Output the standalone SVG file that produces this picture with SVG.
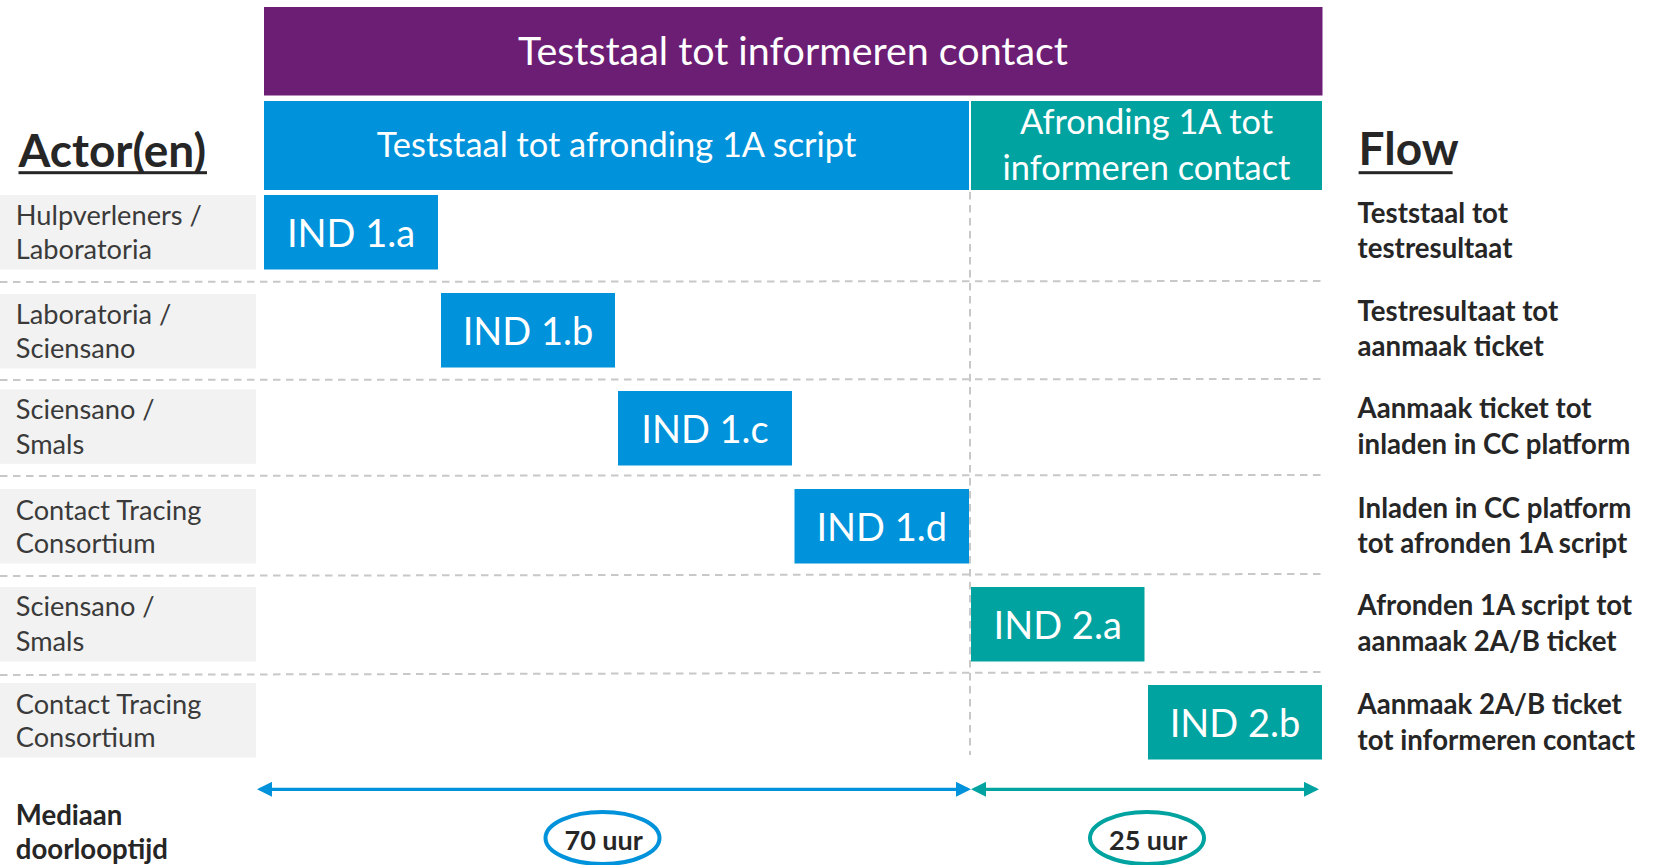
<svg xmlns="http://www.w3.org/2000/svg" width="1656" height="865" viewBox="0 0 1656 865">
<style>
text{font-family:Lato,"Open Sans","Liberation Sans",sans-serif}
.hdr{fill:#ffffff;text-anchor:middle}
.h1{font-size:39.4px}
.h2{font-size:34.4px}
.ind{fill:#ffffff;font-size:38px;text-anchor:middle}
.act{fill:#3a3a3a;font-size:27.2px}
.flow{fill:#262626;font-size:27.6px;font-weight:bold}
.title{fill:#262626;font-size:46px;font-weight:bold}
.lbl{fill:#f2f2f2}
.blue{fill:#0092da}
.teal{fill:#00a3a0}
.dash{stroke:#c8c8c8;stroke-width:2;stroke-dasharray:7.5 5.5;fill:none}
.dur{fill:#262626;font-size:27px;font-weight:bold;text-anchor:middle}
</style>
<defs>
<marker id="ab" markerUnits="userSpaceOnUse" markerWidth="15" markerHeight="15" refX="12" refY="7.5" orient="auto-start-reverse"><path d="M0,0 L15,7.5 L0,15 Z" fill="#0092da"/></marker>
<marker id="at" markerUnits="userSpaceOnUse" markerWidth="15" markerHeight="15" refX="12" refY="7.5" orient="auto-start-reverse"><path d="M0,0 L15,7.5 L0,15 Z" fill="#00a3a0"/></marker>
</defs>
<rect width="1656" height="865" fill="#ffffff"/>

<g id="grid">
<line class="dash" x1="0" y1="282" x2="1322" y2="281"/>
<line class="dash" x1="0" y1="380" x2="1322" y2="379"/>
<line class="dash" x1="0" y1="476" x2="1322" y2="475"/>
<line class="dash" x1="0" y1="576" x2="1322" y2="574"/>
<line class="dash" x1="0" y1="675" x2="1322" y2="672"/>
<line class="dash" x1="970" y1="192" x2="970" y2="755"/>
</g>

<g id="header-main">
<rect x="264" y="7" width="1058.5" height="88.5" fill="#6c1e74"/>
<text class="hdr h1" x="793" y="65">Teststaal tot informeren contact</text>
</g>
<g id="header-1">
<rect class="blue" x="264" y="101" width="705" height="89"/>
<text class="hdr h2" x="616.5" y="156.7">Teststaal tot afronding 1A script</text>
</g>
<g id="header-2">
<rect class="teal" x="971" y="101" width="351" height="89"/>
<text class="hdr h2" x="1146.5" y="134.3">Afronding 1A tot</text>
<text class="hdr h2" x="1146.5" y="180">informeren contact</text>
</g>

<g id="title-actors">
<text class="title" x="18.5" y="166.7">Actor(en)</text>
<rect x="18.5" y="171.2" width="188.5" height="3" fill="#262626"/>
</g>
<g id="title-flow">
<text class="title" x="1358.6" y="165">Flow</text>
<rect x="1358.6" y="171.2" width="94" height="3" fill="#262626"/>
</g>

<g id="actor-1"><rect class="lbl" x="0" y="195" width="256" height="74.5"/>
<text class="act" x="15.8" y="225">Hulpverleners /</text><text class="act" x="15.8" y="259.3">Laboratoria</text></g>
<g id="actor-2"><rect class="lbl" x="0" y="294" width="256" height="74.5"/>
<text class="act" x="15.8" y="324">Laboratoria /</text><text class="act" x="15.8" y="358.3">Sciensano</text></g>
<g id="actor-3"><rect class="lbl" x="0" y="389.3" width="256" height="74.5"/>
<text class="act" x="15.8" y="419.3">Sciensano /</text><text class="act" x="15.8" y="453.7">Smals</text></g>
<g id="actor-4"><rect class="lbl" x="0" y="489" width="256" height="74.5"/>
<text class="act" x="15.8" y="520.3">Contact Tracing</text><text class="act" x="15.8" y="552.7">Consortium</text></g>
<g id="actor-5"><rect class="lbl" x="0" y="587" width="256" height="74.5"/>
<text class="act" x="15.8" y="616.3">Sciensano /</text><text class="act" x="15.8" y="651">Smals</text></g>
<g id="actor-6"><rect class="lbl" x="0" y="683" width="256" height="74.5"/>
<text class="act" x="15.8" y="713.7">Contact Tracing</text><text class="act" x="15.8" y="747">Consortium</text></g>

<g id="ind-1a"><rect class="blue" x="264" y="195" width="174" height="74.5"/><text class="ind" x="351" y="246.7">IND 1.a</text></g>
<g id="ind-1b"><rect class="blue" x="441" y="293" width="174" height="74.5"/><text class="ind" x="528" y="344.7">IND 1.b</text></g>
<g id="ind-1c"><rect class="blue" x="618" y="391" width="174" height="74.5"/><text class="ind" x="705" y="442.7">IND 1.c</text></g>
<g id="ind-1d"><rect class="blue" x="794.5" y="489" width="174.5" height="74.5"/><text class="ind" x="881.7" y="540.7">IND 1.d</text></g>
<g id="ind-2a"><rect class="teal" x="971" y="587" width="173.5" height="74.5"/><text class="ind" x="1057.7" y="638.7">IND 2.a</text></g>
<g id="ind-2b"><rect class="teal" x="1148" y="685" width="174" height="74.5"/><text class="ind" x="1235" y="736.7">IND 2.b</text></g>

<g id="flow-1"><text class="flow" x="1357.6" y="222.7">Teststaal tot</text><text class="flow" x="1357.6" y="258.3">testresultaat</text></g>
<g id="flow-2"><text class="flow" x="1357.6" y="321">Testresultaat tot</text><text class="flow" x="1357.6" y="356">aanmaak ticket</text></g>
<g id="flow-3"><text class="flow" x="1357.6" y="418.3">Aanmaak ticket tot</text><text class="flow" x="1357.6" y="453.7">inladen in CC platform</text></g>
<g id="flow-4"><text class="flow" x="1357.6" y="518">Inladen in CC platform</text><text class="flow" x="1357.6" y="552.7">tot afronden 1A script</text></g>
<g id="flow-5"><text class="flow" x="1357.6" y="615.3">Afronden 1A script tot</text><text class="flow" x="1357.6" y="651.3">aanmaak 2A/B ticket</text></g>
<g id="flow-6"><text class="flow" x="1357.6" y="713.7">Aanmaak 2A/B ticket</text><text class="flow" x="1357.6" y="749.7">tot informeren contact</text></g>

<g id="connectors">
<line x1="260" y1="789.3" x2="968" y2="789.3" stroke="#0092da" stroke-width="3.3" marker-start="url(#ab)" marker-end="url(#ab)"/>
<line x1="974" y1="789.3" x2="1316" y2="789.3" stroke="#00a3a0" stroke-width="3.3" marker-start="url(#at)" marker-end="url(#at)"/>
</g>

<g id="median-label">
<text class="flow" x="15.8" y="824.7">Mediaan</text>
<text class="flow" x="15.8" y="858.7">doorlooptijd</text>
</g>
<g id="dur-70">
<ellipse cx="602.5" cy="838" rx="57" ry="26" fill="#ffffff" stroke="#0092da" stroke-width="4"/>
<text class="dur" x="603.7" y="850">70 uur</text>
</g>
<g id="dur-25">
<ellipse cx="1147" cy="838" rx="57" ry="26" fill="#ffffff" stroke="#00a3a0" stroke-width="4"/>
<text class="dur" x="1148.2" y="850">25 uur</text>
</g>
</svg>
